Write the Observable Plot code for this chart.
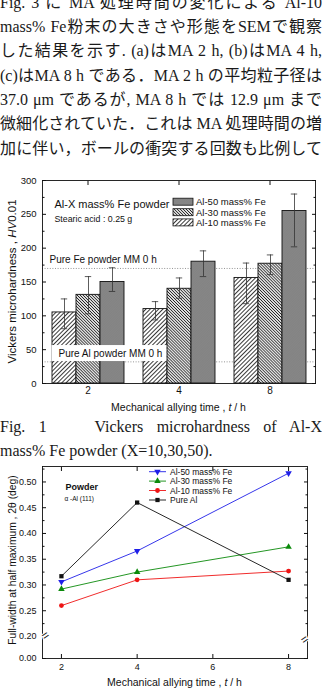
<!DOCTYPE html>
<html lang="ja">
<head>
<meta charset="utf-8">
<script src="https://cdn.jsdelivr.net/npm/d3@7"></script>
<script src="https://cdn.jsdelivr.net/npm/@observablehq/plot@0.6"></script>
<style>
  html, body { margin: 0; padding: 0; background: #fff; }
  #page { position: relative; width: 322px; height: 689px; overflow: hidden; background: #fff; }
  .prose { position: absolute; left: 0; width: 322px; font-family: "Liberation Serif", "Noto Sans CJK JP", serif; color: #1a1a1a; }
  .prose div { position: absolute; left: 0; width: 322px; height: 24px; line-height: 24px; overflow: hidden; }
  .justify { text-align: justify; text-align-last: justify; }
  #page svg.chart { position: absolute; left: 0; overflow: visible; }
</style>
</head>
<body>
<div id="page">
  <svg width="0" height="0" style="position:absolute">
    <defs>
      <pattern id="hatch10" patternUnits="userSpaceOnUse" width="3" height="3" patternTransform="rotate(45)">
        <rect width="3" height="3" fill="#fff"></rect>
        <line x1="1.5" y1="0" x2="1.5" y2="3" stroke="#222" stroke-width="0.9"></line>
      </pattern>
      <pattern id="hatch30" patternUnits="userSpaceOnUse" width="2.1" height="2.1" patternTransform="rotate(-45)">
        <rect width="2.1" height="2.1" fill="#fff"></rect>
        <line x1="1.05" y1="0" x2="1.05" y2="2.1" stroke="#222" stroke-width="0.9"></line>
      </pattern>
      <pattern id="hatch50" patternUnits="userSpaceOnUse" width="1.7" height="1.7" patternTransform="rotate(45)">
        <rect width="1.7" height="1.7" fill="#b0b0b0"></rect>
        <line x1="0.85" y1="0" x2="0.85" y2="1.7" stroke="#444" stroke-width="0.7"></line>
      </pattern>
    </defs>
  </svg>
  <div class="prose" id="prose" style="top:0;font-size:16px"></div>
  <div class="prose" id="caption" style="top:0;font-size:16px"></div>
</div>
<script>
// ---------- running text ----------
const proseLines = [
  "Fig. 3 に MA 処理時間の変化による Al-10",
  "mass% Fe粉末の大きさや形態をSEMで観察",
  "した結果を示す. (a)はMA 2 h, (b)はMA 4 h,",
  "(c)はMA 8 h である．MA 2 h の平均粒子径は",
  "37.0 μm であるが, MA 8 h では 12.9 μm まで",
  "微細化されていた．これは MA 処理時間の増",
  "加に伴い，ボールの衝突する回数も比例して"
];
const captionLines = [
  "Fig. 1　 Vickers microhardness of Al-X",
  "mass% Fe powder (X=10,30,50)."
];

const prose = document.getElementById("prose");
proseLines.forEach((s, i) => {
  const d = document.createElement("div");
  d.className = "justify";
  d.style.top = (2.5 + 24.35 * i - 12) + "px";
  d.textContent = s;
  prose.append(d);
});
const caption = document.getElementById("caption");
captionLines.forEach((s, i) => {
  const d = document.createElement("div");
  if (i === 0) d.className = "justify";
  d.style.top = (427 + 23.5 * i - 12) + "px";
  d.textContent = s;
  caption.append(d);
});

const chartFont = '"Liberation Sans", "Noto Sans", sans-serif';
const page = document.getElementById("page");

function addTitle(svg, x, y, rotate, parts, size) {
  const t = d3.select(svg).append("text")
    .attr("transform", `translate(${x},${y}) rotate(${rotate})`)
    .attr("text-anchor", "middle").attr("dominant-baseline", "central")
    .attr("font-size", size).attr("font-family", chartFont).attr("fill", "#111");
  parts.forEach(([s, italic]) => t.append("tspan").attr("font-style", italic ? "italic" : null).text(s));
}

// ---------- Vickers microhardness (bar chart) ----------
const hvTimes = ["2", "4", "8"];
const hvAlloys = ["Al-10 mass% Fe", "Al-30 mass% Fe", "Al-50 mass% Fe"];
const hvAl10 = [105, 110, 156];
const hvAl30 = [131, 140, 177];
const hvAl50 = [150, 180, 255];
const hvAl10Low = [81, 94, 118];
const hvAl10High = [125, 121, 178];
const hvAl30Low = [103, 126, 161];
const hvAl30High = [158, 156, 190];
const hvAl50Low = [136, 158, 202];
const hvAl50High = [171, 196, 280];
const hvTicks = [0, 50, 100, 150, 200, 250, 300];
const hvMinorTicks = [25, 75, 125, 175, 225, 275];
const pureFeHV = 170;
const pureAlHV = 32;
const pureFeNote = "Pure Fe powder MM 0 h";
const pureAlNote = "Pure Al powder MM 0 h";
const hatchOf = {"Al-10 mass% Fe": "url(#hatch10)", "Al-30 mass% Fe": "url(#hatch30)", "Al-50 mass% Fe": "url(#hatch50)"};

const hardness = [];
[[hvAl10, hvAl10Low, hvAl10High], [hvAl30, hvAl30Low, hvAl30High], [hvAl50, hvAl50Low, hvAl50High]]
  .forEach(([v, lo, hi], j) => hvTimes.forEach((t, i) =>
    hardness.push({time: t, alloy: hvAlloys[j], hv: v[i], lo: lo[i], hi: hi[i]})));

// reference-powder notes sit in the first time group
const pureNotes = [
  {time: hvTimes[0], hv: pureFeHV, note: pureFeNote},
  {time: hvTimes[0], hv: pureAlHV, note: pureAlNote}
];

const blank = () => "";
const barChart = Plot.plot({
  width: 322, height: 250,
  marginTop: 10, marginBottom: 37, marginLeft: 41, marginRight: 6,
  style: {fontFamily: chartFont, fontSize: "10px", color: "#111", background: "transparent"},
  fx: {domain: hvTimes, padding: 0, label: null},
  x: {domain: hvAlloys, paddingInner: 0, paddingOuter: 0.36, axis: null},
  y: {domain: [0, 300], label: null},
  marks: [
    Plot.ruleY([pureFeHV, pureAlHV], {stroke: "#888", strokeWidth: 0.9, strokeDasharray: "1,1.6"}),
    Plot.barY(hardness, {fx: "time", x: "alloy", y: "hv", fill: d => hatchOf[d.alloy], stroke: "#111", strokeWidth: 0.9}),
    Plot.ruleX(hardness, {fx: "time", x: "alloy", y1: "lo", y2: "hi", stroke: "#333", strokeWidth: 0.8}),
    Plot.tickY(hardness, {fx: "time", x: "alloy", y: "lo", stroke: "#333", strokeWidth: 0.8, inset: 8.8}),
    Plot.tickY(hardness, {fx: "time", x: "alloy", y: "hi", stroke: "#333", strokeWidth: 0.8, inset: 8.8}),
    Plot.text(pureNotes.slice(0, 1), {fx: "time", y: "hv", text: "note", frameAnchor: "left", textAnchor: "start", dx: 7, dy: -9, fontSize: 10}),
    Plot.text(pureNotes.slice(1), {fx: "time", y: "hv", text: "note", frameAnchor: "left", textAnchor: "start", dx: 16, dy: -8, fontSize: 10}),
    Plot.text(["Al-X mass% Fe powder"], {facet: "super", frameAnchor: "top-left", textAnchor: "start", dx: 12, dy: 20, fontSize: 11}),
    Plot.text(["Stearic acid : 0.25 g"], {facet: "super", frameAnchor: "top-left", textAnchor: "start", dx: 12, dy: 35, fontSize: 8.8}),
    Plot.frame({facet: "super", stroke: "#111", strokeWidth: 0.9}),
    Plot.axisY(hvTicks, {anchor: "left", tickSize: -4, tickPadding: 10, fontSize: 9.5, label: null}),
    Plot.axisY(hvMinorTicks, {anchor: "left", tickSize: -2.5, tickFormat: blank, label: null}),
    Plot.axisY(hvTicks, {anchor: "right", tickSize: -4, tickFormat: blank, label: null}),
    Plot.axisY(hvMinorTicks, {anchor: "right", tickSize: -2.5, tickFormat: blank, label: null}),
    Plot.axisFx({anchor: "top", tickSize: -4, tickFormat: blank, label: null}),
    Plot.axisFx({anchor: "bottom", tickSize: 0, tickPadding: 3, fontSize: 10, label: null})
  ]
});
barChart.classList.add("chart");
barChart.style.top = "170px";
page.append(barChart);

// white box behind the Pure Al note, laid over the bars
d3.select(barChart).selectAll("text").filter(function() { return this.textContent === pureAlNote; })
  .each(function() {
    const box = this.getBBox();
    d3.select(this.parentNode).insert("rect", () => this)
      .attr("transform", this.getAttribute("transform"))
      .attr("x", box.x - 7).attr("y", box.y - 3)
      .attr("width", box.width + 11).attr("height", box.height + 5)
      .attr("fill", "#fff").attr("stroke", "none");
  });

addTitle(barChart, 12, 111.5, -90, [["Vickers microhardness , ", false], ["HV", true], ["0.01", false]], 11.5);
addTitle(barChart, 178.5, 237, 0, [["Mechanical allying time , ", false], ["t", true], [" / h", false]], 10.5);

// pattern legend
{
  const lg = d3.select(barChart).append("g").attr("font-family", chartFont).attr("font-size", 9.5)
    .attr("fill", "#111").attr("text-anchor", "start");
  const rows = [["Al-50 mass% Fe", 31.7], ["Al-30 mass% Fe", 42.2], ["Al-10 mass% Fe", 52.4]];
  rows.forEach(([name, y]) => {
    lg.append("rect").attr("x", 173).attr("y", y - 3.5).attr("width", 20).attr("height", 7)
      .attr("fill", hatchOf[name]).attr("stroke", "#111").attr("stroke-width", 0.8);
    lg.append("text").attr("x", 196).attr("y", y).attr("dominant-baseline", "central").text(name);
  });
}

// ---------- FWHM of α-Al (111) (line chart) ----------
const fwhmTimes = [2, 4, 8];
const fwhmAl50 = [0.306, 0.366, 0.517];
const fwhmAl30 = [0.292, 0.325, 0.374];
const fwhmAl10 = [0.260, 0.310, 0.327];
const fwhmPureAl = [0.317, 0.460, 0.310];
const fwhmSeries = ["Al-50 mass% Fe", "Al-30 mass% Fe", "Al-10 mass% Fe", "Pure Al"];
const fwhmColors = ["#1f1fe8", "#0b8a0b", "#ee1414", "#111111"];
const fwhmTicks = [0, 0.20, 0.25, 0.30, 0.35, 0.40, 0.45, 0.50];
const fwhmMinorTicks = [0.225, 0.275, 0.325, 0.375, 0.425, 0.475, 0.525];
const timeTicks = [2, 4, 6, 8];
const fwhmMax = 0.53;
const axisBreakAt = 0.19;
// the stretch below 0.20 is squeezed so that the axis can be broken there
const breakFrom = 0.2, breakSqueeze = 0.2136;
const squash = v => v <= breakFrom ? v * breakSqueeze : breakFrom * breakSqueeze + (v - breakFrom);

const triangleDown = {
  draw(context, size) {
    const y = Math.sqrt(size / (Math.sqrt(3) * 3));
    context.moveTo(0, y * 2);
    context.lineTo(-Math.sqrt(3) * y, -y);
    context.lineTo(Math.sqrt(3) * y, -y);
    context.closePath();
  }
};
const fwhmSymbols = [triangleDown, "triangle", "circle", "square"];
const fwhmValues = [fwhmAl50, fwhmAl30, fwhmAl10, fwhmPureAl];
const fwhm = fwhmSeries.map((name, j) => fwhmTimes.map((t, i) => ({series: name, t, w: fwhmValues[j][i]})));

const lineChart = Plot.plot({
  width: 322, height: 231,
  marginTop: 8, marginBottom: 31, marginLeft: 42, marginRight: 15,
  style: {fontFamily: chartFont, fontSize: "9px", color: "#111", background: "transparent"},
  x: {domain: [1.5, 8.5], label: null},
  y: {transform: squash, domain: [squash(0), squash(fwhmMax)], label: null},
  marks: [
    ...fwhm.map((rows, j) => Plot.line(rows, {x: "t", y: "w", stroke: fwhmColors[j], strokeWidth: 0.9})),
    ...fwhm.map((rows, j) => Plot.dot(rows, {x: "t", y: "w", symbol: fwhmSymbols[j], r: 2.4, fill: fwhmColors[j], stroke: "none"})),
    Plot.text(["Powder"], {frameAnchor: "top-left", textAnchor: "start", dx: 23, dy: 17, fontSize: 9, fontWeight: "bold"}),
    Plot.text(["α -Al (111)"], {frameAnchor: "top-left", textAnchor: "start", dx: 22, dy: 30, fontSize: 6.5}),
    Plot.frame({stroke: "#111", strokeWidth: 0.9}),
    Plot.axisY(fwhmTicks, {anchor: "left", tickSize: -4, tickPadding: 10, fontSize: 9, tickFormat: d3.format(".2f"), label: null}),
    Plot.axisY(fwhmMinorTicks, {anchor: "left", tickSize: -2.5, tickFormat: blank, label: null}),
    Plot.axisY(fwhmTicks, {anchor: "right", tickSize: -4, tickFormat: blank, label: null}),
    Plot.axisY(fwhmMinorTicks, {anchor: "right", tickSize: -2.5, tickFormat: blank, label: null}),
    Plot.axisX(timeTicks, {anchor: "bottom", tickSize: -4, tickPadding: 9, fontSize: 9, label: null}),
    Plot.axisX(timeTicks, {anchor: "top", tickSize: -4, tickFormat: blank, label: null}),
    Plot.text(["="], {y: axisBreakAt, frameAnchor: "left", fontSize: 12, rotate: -35, fill: "#111", stroke: "#fff", strokeWidth: 2.2, paintOrder: "stroke"}),
    Plot.text(["="], {y: axisBreakAt, frameAnchor: "right", fontSize: 12, rotate: -35, fill: "#111", stroke: "#fff", strokeWidth: 2.2, paintOrder: "stroke"})
  ]
});
lineChart.classList.add("chart");
lineChart.style.top = "458px";
page.append(lineChart);

addTitle(lineChart, 12, 102, -90, [["Full-width at half maximum , 2θ (deg)", false]], 10.3);
addTitle(lineChart, 174.5, 223.5, 0, [["Mechanical allying time , ", false], ["t", true], [" / h", false]], 10.5);

// series legend
{
  const lg = d3.select(lineChart).append("g").attr("font-family", chartFont).attr("font-size", 8.5)
    .attr("fill", "#111").attr("text-anchor", "start");
  const rowY = [13.7, 23.1, 32.5, 42];
  fwhmSeries.forEach((name, j) => {
    const y = rowY[j];
    lg.append("line").attr("x1", 149).attr("x2", 166).attr("y1", y).attr("y2", y)
      .attr("stroke", fwhmColors[j]).attr("stroke-width", 0.9);
    const sym = typeof fwhmSymbols[j] === "string"
      ? {triangle: d3.symbolTriangle, circle: d3.symbolCircle, square: d3.symbolSquare}[fwhmSymbols[j]]
      : fwhmSymbols[j];
    lg.append("path").attr("transform", `translate(157.5,${y})`)
      .attr("d", d3.symbol(sym, Math.PI * 2.4 * 2.4)()).attr("fill", fwhmColors[j]);
    lg.append("text").attr("x", 170).attr("y", y).attr("dominant-baseline", "central").text(name);
  });
}
</script>
</body>
</html>
